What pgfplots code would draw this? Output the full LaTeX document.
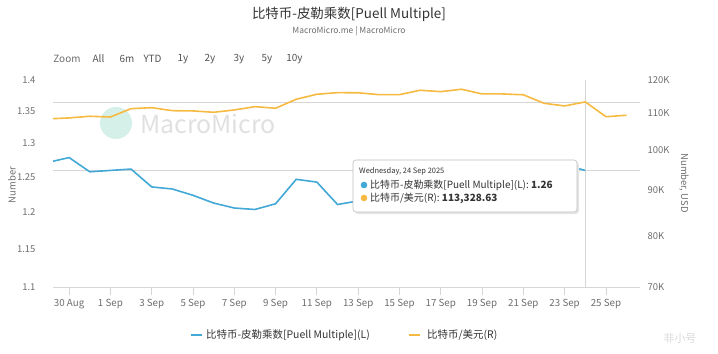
\documentclass[border=0pt]{standalone}
\usepackage{fontspec}
\setmainfont{Noto Sans CJK SC}
\usepackage{pgfplots}
\usepackage{pgfplotstable}
\pgfplotsset{compat=1.18}
\definecolor{pblue}{RGB}{66,168,214}
\definecolor{porange}{RGB}{246,186,66}
\definecolor{lbl}{RGB}{110,110,110}
\definecolor{axl}{RGB}{214,214,214}
\definecolor{txt}{RGB}{51,51,51}
\definecolor{wmc}{RGB}{212,240,232}

\pgfplotstableread{
d v
-1 1.272
0 1.279
1 1.258
2 1.260
3 1.262
4 1.236
5 1.233
6 1.224
7 1.213
8 1.206
9 1.204
10 1.212
11 1.247
12 1.243
13 1.211
14 1.216
15 1.221
16 1.227
17 1.232
18 1.238
19 1.243
20 1.248
21 1.254
22 1.259
23 1.264
24 1.268
25 1.260
}\puell

\pgfplotstableread{
d v
-1 108430
0 108700
1 109170
2 108960
3 111350
4 111640
5 110770
6 110690
7 110310
8 110970
9 111940
10 111470
11 114110
12 115610
13 116090
14 116050
15 115490
16 115490
17 116820
18 116400
19 117130
20 115700
21 115700
22 115450
23 112920
24 112140
25 113328.63
26 109050
27 109450
}\btc

\begin{document}
\begin{tikzpicture}[x=1bp,y=1bp]
\useasboundingbox (0,0) rectangle (718,353);
% watermark
\fill[wmc] (116,230) circle (16);
\node[anchor=west, text=black!12, font=\fontsize{25}{25}\selectfont, inner sep=0] at (140,229) {MacroMicro};

\begin{axis}[
  at={(53bp,66bp)}, anchor=south west,
  width=587bp, height=207bp, scale only axis,
  xmin=-0.78, xmax=27.65,
  ymode=log, ymin=1.1, ymax=1.4,
  axis x line*=bottom, axis y line*=left,
  y axis line style={draw=none},
  x axis line style={draw=axl, line width=0.8bp},
  ytick={1.1,1.15,1.2,1.25,1.3,1.35,1.4},
  yticklabels={1.1,1.15,1.2,1.25,1.3,1.35,1.4},
  ytick style={draw=none},
  yticklabel style={font=\fontsize{9.5}{9.5}\selectfont, text=lbl, xshift=-6bp},
  xtick={0,2,...,26},
  xticklabels={30 Aug,1 Sep,3 Sep,5 Sep,7 Sep,9 Sep,11 Sep,13 Sep,15 Sep,17 Sep,19 Sep,21 Sep,23 Sep,25 Sep},
  tick align=outside,
  xtick style={draw=axl, line width=0.8bp},
  major tick length=8bp,
  xticklabel style={font=\fontsize{9.8}{9.8}\selectfont, text=lbl, yshift=-1bp},
  minor tick num=0,
]
\draw[axl, line width=0.8bp] (axis cs:-0.78,1.26) -- (axis cs:27.65,1.26);
\draw[axl, line width=0.8bp] (axis cs:25,1.1) -- (axis cs:25,1.4);
\addplot[pblue, line width=1.6bp, no marks] table[x=d, y=v] {\puell};
\end{axis}

\begin{axis}[
  at={(53bp,66bp)}, anchor=south west,
  width=587bp, height=207bp, scale only axis,
  xmin=-0.78, xmax=27.65,
  ymode=log, ymin=70000, ymax=120000,
  hide x axis,
  axis y line*=right,
  y axis line style={draw=none},
  ytick={70000,80000,90000,100000,110000,120000},
  yticklabels={70K,80K,90K,100K,110K,120K},
  ytick style={draw=none},
  yticklabel style={font=\fontsize{9.5}{9.5}\selectfont, text=lbl, anchor=west, xshift=4bp},
]
\draw[axl, line width=0.8bp] (axis cs:-0.78,113328.63) -- (axis cs:27.65,113328.63);
\addplot[porange, line width=1.6bp, no marks] table[x=d, y=v] {\btc};
\end{axis}

% axis titles
\node[rotate=90, text=lbl, font=\fontsize{9.5}{9.5}\selectfont] at (12,168) {Number};
\node[rotate=-90, text=lbl, font=\fontsize{9.5}{9.5}\selectfont] at (684,170) {Number, USD};

% title and subtitle
\node[text=txt, font=\fontsize{13.5}{13.5}\selectfont] at (349,339) {比特币-皮勒乘数[Puell Multiple]};
\node[text=lbl, font=\fontsize{8.5}{8.5}\selectfont] at (349,322) {MacroMicro.me | MacroMicro};

% range selector
\begin{scope}[every node/.style={font=\fontsize{10}{10}\selectfont, text=txt!85}]
\node[text=lbl] at (67,294) {Zoom};
\node at (98.5,294) {All};
\node at (127,294) {6m};
\node at (152.5,294) {YTD};
\node at (183,294) {1y};
\node at (210,294) {2y};
\node at (239,294) {3y};
\node at (267,294) {5y};
\node at (294.5,294) {10y};
\end{scope}

% tooltip
\fill[black!10, rounded corners=3] (355,139) rectangle (579,191);
\filldraw[fill=white, draw=black!25, line width=0.6bp, rounded corners=3] (353,141) rectangle (577,193);
\node[anchor=west, text=txt, font=\fontsize{7.5}{7.5}\selectfont, inner sep=0] at (359,182) {Wednesday, 24 Sep 2025};
\fill[pblue] (364,168) circle (3.3);
\node[anchor=west, text=txt, font=\fontsize{10}{10}\selectfont, inner sep=0] at (370,168) {比特币-皮勒乘数[Puell Multiple](L): \textbf{1.26}};
\fill[porange] (364,155) circle (3.3);
\node[anchor=west, text=txt, font=\fontsize{10}{10}\selectfont, inner sep=0] at (370,155) {比特币/美元(R): \textbf{113,328.63}};

% legend
\draw[pblue, line width=2bp] (191,18) -- (202,18);
\node[anchor=west, text=txt, font=\fontsize{10.5}{10.5}\selectfont, inner sep=0] at (206,18) {比特币-皮勒乘数[Puell Multiple](L)};
\draw[porange, line width=2bp] (409,18) -- (420,18);
\node[anchor=west, text=txt, font=\fontsize{10.5}{10.5}\selectfont, inner sep=0] at (427,18) {比特币/美元(R)};

% corner watermark
\node[text=black!15, font=\fontsize{11}{11}\selectfont] at (680,15) {非小号};
\end{tikzpicture}
\end{document}
